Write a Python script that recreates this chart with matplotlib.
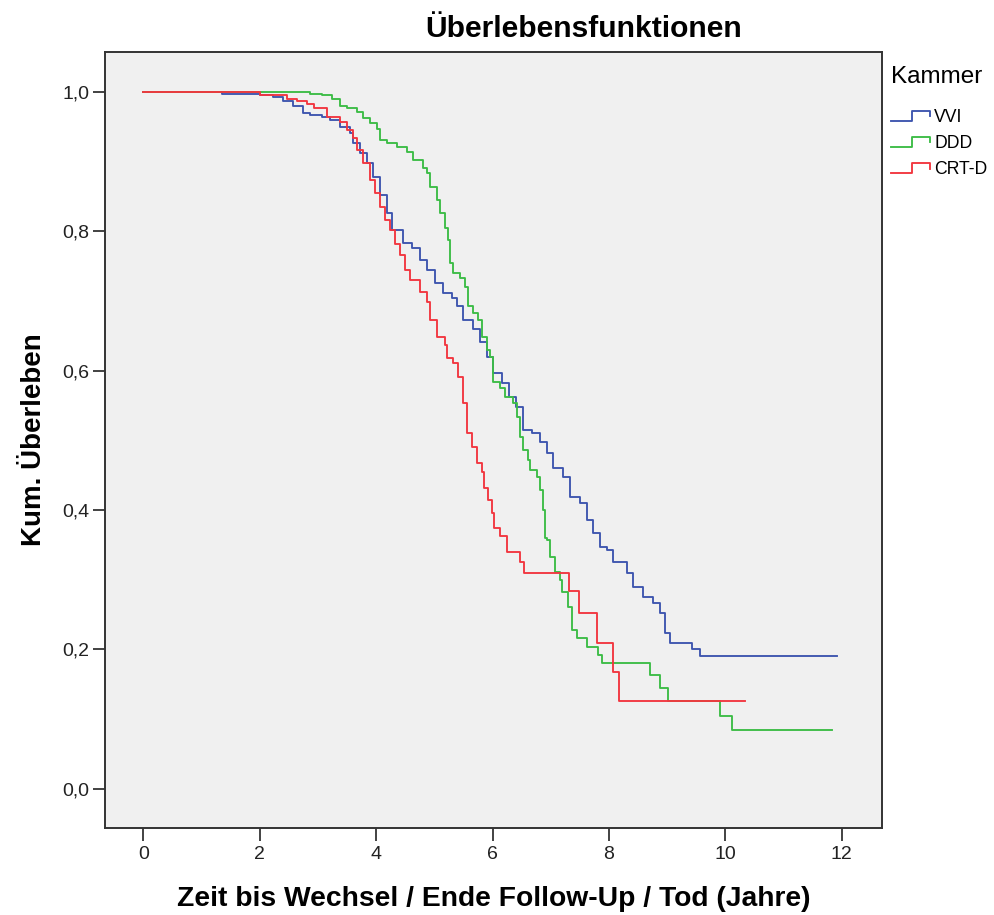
import matplotlib
import matplotlib.pyplot as plt
from matplotlib.lines import Line2D
from matplotlib.legend_handler import HandlerLine2D
from matplotlib.ticker import FuncFormatter
matplotlib.use('Agg')

plt.rcParams['font.family'] = ['Liberation Sans', 'DejaVu Sans']

# Kaplan-Meier Stufen (Zeit in Jahren, kum. Ueberleben nach dem Ereignis)
vvi_t = [0, 1.35, 2.00, 2.22, 2.40, 2.57, 2.74, 2.86, 3.07, 3.20, 3.37, 3.55, 3.60, 3.72,
         3.84, 3.94, 4.06, 4.18, 4.28, 4.46, 4.61, 4.75, 4.87, 5.01, 5.14, 5.30, 5.38,
         5.49, 5.66, 5.78, 5.90, 6.00, 6.17, 6.29, 6.41, 6.52, 6.67, 6.81, 6.93, 7.03,
         7.21, 7.33, 7.50, 7.62, 7.72, 7.84, 7.96, 8.07, 8.31, 8.41, 8.58, 8.75, 8.87,
         8.96, 9.04, 9.42, 9.56, 11.91]
vvi_s = [1.0, 0.997, 0.995, 0.992, 0.987, 0.980, 0.970, 0.967, 0.964, 0.960, 0.950, 0.941,
         0.927, 0.912, 0.898, 0.878, 0.852, 0.826, 0.802, 0.783, 0.776, 0.759, 0.745,
         0.726, 0.712, 0.704, 0.692, 0.673, 0.659, 0.641, 0.620, 0.597, 0.582, 0.562,
         0.548, 0.515, 0.511, 0.498, 0.482, 0.461, 0.448, 0.419, 0.410, 0.386, 0.367,
         0.347, 0.343, 0.326, 0.310, 0.290, 0.275, 0.267, 0.252, 0.224, 0.209, 0.201,
         0.191, 0.191]

ddd_t = [0, 2.86, 3.07, 3.24, 3.37, 3.49, 3.67, 3.77, 3.89, 4.01, 4.06, 4.18, 4.35, 4.53,
         4.63, 4.80, 4.87, 4.92, 5.04, 5.09, 5.18, 5.23, 5.26, 5.32, 5.44, 5.52, 5.57,
         5.66, 5.75, 5.81, 5.90, 5.95, 6.00, 6.12, 6.21, 6.35, 6.42, 6.47, 6.52, 6.60,
         6.64, 6.76, 6.81, 6.86, 6.90, 6.93, 6.98, 7.07, 7.15, 7.20, 7.29, 7.37, 7.45,
         7.62, 7.81, 7.88, 8.70, 8.87, 9.01, 9.90, 10.11, 11.83]
ddd_s = [1.0, 0.997, 0.996, 0.990, 0.980, 0.977, 0.971, 0.963, 0.955, 0.946, 0.931, 0.927,
         0.921, 0.914, 0.902, 0.891, 0.884, 0.864, 0.845, 0.826, 0.805, 0.788, 0.755,
         0.740, 0.733, 0.720, 0.692, 0.683, 0.673, 0.648, 0.630, 0.620, 0.584, 0.575,
         0.562, 0.554, 0.534, 0.505, 0.486, 0.472, 0.458, 0.448, 0.429, 0.400, 0.360,
         0.357, 0.333, 0.311, 0.300, 0.283, 0.261, 0.228, 0.217, 0.204, 0.192, 0.181,
         0.164, 0.145, 0.126, 0.105, 0.085, 0.085]

crt_t = [0, 2.00, 2.46, 2.64, 2.81, 2.94, 3.15, 3.37, 3.49, 3.60, 3.67, 3.77, 3.89, 3.98,
         4.06, 4.15, 4.23, 4.32, 4.41, 4.49, 4.58, 4.75, 4.87, 4.92, 5.04, 5.18, 5.21,
         5.32, 5.40, 5.49, 5.56, 5.64, 5.73, 5.81, 5.85, 5.92, 5.99, 6.02, 6.12, 6.24,
         6.47, 6.54, 7.31, 7.48, 7.79, 8.07, 8.17, 10.33]
crt_s = [1.0, 0.996, 0.989, 0.986, 0.983, 0.977, 0.964, 0.956, 0.945, 0.934, 0.917, 0.898,
         0.874, 0.855, 0.835, 0.816, 0.802, 0.781, 0.766, 0.745, 0.730, 0.713, 0.699,
         0.673, 0.648, 0.637, 0.618, 0.611, 0.591, 0.554, 0.511, 0.491, 0.468, 0.455,
         0.432, 0.415, 0.396, 0.374, 0.363, 0.340, 0.326, 0.310, 0.284, 0.252, 0.209,
         0.168, 0.126, 0.126]

groups = ["VVI", "DDD", "CRT-D"]
colors = ["#3d55ae", "#3cbc46", "#f2363f"]


class StepHandler(HandlerLine2D):
    # kleine Treppe als Legendensymbol
    def create_artists(self, legend, orig_handle, xdescent, ydescent,
                       width, height, fontsize, trans):
        x0 = -xdescent
        y0 = -ydescent
        xs = [x0, x0 + 0.52 * width, x0 + 0.52 * width, x0 + 0.95 * width, x0 + 0.95 * width]
        ys = [y0 + 0.05 * height, y0 + 0.05 * height, y0 + 0.95 * height,
              y0 + 0.95 * height, y0 + 0.45 * height]
        line = Line2D(xs, ys, color=orig_handle.get_color(), lw=orig_handle.get_linewidth())
        line.set_transform(trans)
        return [line]


fig = plt.figure(figsize=(9.94, 9.15), dpi=100)
ax = fig.add_axes([0.1056, 0.0951, 0.7817, 0.8481])
ax.set_facecolor("#f0f0f0")

handles = []
for t, s, c, g in zip([vvi_t, ddd_t, crt_t], [vvi_s, ddd_s, crt_s], colors, groups):
    h, = ax.step(t, s, where='post', color=c, lw=1.35, label=g)
    handles.append(h)

ax.set_xlim(-0.66, 12.69)
ax.set_ylim(-0.056, 1.057)
ax.set_xticks([0, 2, 4, 6, 8, 10, 12])
ax.set_yticks([0, 0.2, 0.4, 0.6, 0.8, 1.0])
ax.yaxis.set_major_formatter(FuncFormatter(lambda v, p: f"{v:.1f}".replace(".", ",")))
ax.tick_params(axis='x', length=9, width=1.2, pad=4, labelsize=14, colors='#222222')
ax.tick_params(axis='y', length=9, width=1.2, pad=2, labelsize=14, colors='#222222')
for sp in ax.spines.values():
    sp.set_color('#333333')
    sp.set_linewidth(1.4)

ax.set_xlabel("Zeit bis Wechsel / Ende Follow-Up / Tod (Jahre)", fontsize=20.3, fontweight='bold')
ax.xaxis.set_label_coords(0.5, -0.075)
ax.set_ylabel("Kum. Überleben", fontsize=20, fontweight='bold')
ax.yaxis.set_label_coords(-0.0746, 0.5)

fig.text(584 / 994, 1 - 29 / 915, "Überlebensfunktionen", fontsize=21.6, fontweight='bold',
         ha='center', va='center')

leg = fig.legend(handles=handles, labels=groups, loc='upper left',
                 bbox_to_anchor=(891 / 994, 1 - 66 / 915), frameon=False,
                 title="Kammer", title_fontsize=17.5, fontsize=12.7, alignment='left',
                 handlelength=2.3, handleheight=0.6, handletextpad=0.15, labelspacing=0.52,
                 borderpad=0, borderaxespad=0,
                 handler_map={Line2D: StepHandler()})
leg._legend_box.sep = 15

plt.savefig("out.png", dpi=100)
plt.close('all')
